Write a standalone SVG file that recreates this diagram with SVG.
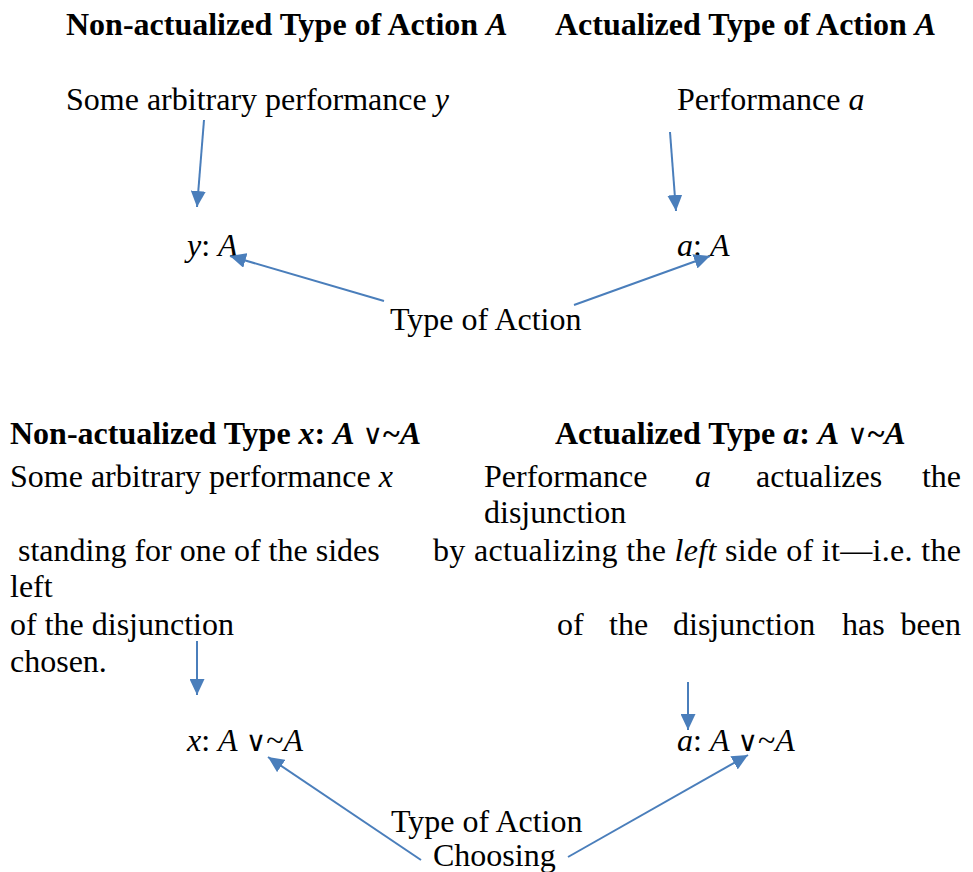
<svg xmlns="http://www.w3.org/2000/svg" width="973" height="872" viewBox="0 0 973 872">
<defs>
<style>
text{font-family:"Liberation Serif","Times New Roman",serif;font-size:32px;fill:#000}
.b{font-weight:bold}
.i{font-style:italic}
.sym{font-family:"DejaVu Serif","Liberation Serif",serif;font-size:28px;font-weight:normal}
.c{stroke:#4A7EBB;stroke-width:2;fill:none;marker-end:url(#ah)}
</style>
<marker id="ah" markerUnits="userSpaceOnUse" markerWidth="16" markerHeight="15" refX="16" refY="7.5" orient="auto" viewBox="0 0 16 15">
<path d="M0,0 L16,7.5 L0,15 z" fill="#4A7EBB"/>
</marker>
</defs>
<rect width="973" height="872" fill="#fff"/>

<g id="heading-non-actualized-A"><text x="66" y="35" class="b">Non-actualized Type of Action <tspan class="i">A</tspan></text></g>
<g id="heading-actualized-A"><text x="555" y="35" class="b">Actualized Type of Action <tspan class="i">A</tspan></text></g>

<g id="node-some-y"><text x="66" y="110">Some arbitrary performance <tspan class="i">y</tspan></text></g>
<g id="node-perf-a"><text x="677" y="110">Performance <tspan class="i">a</tspan></text></g>

<g id="node-yA"><text x="187" y="256"><tspan class="i">y</tspan>: <tspan class="i">A</tspan></text></g>
<g id="node-aA"><text x="677" y="256"><tspan class="i">a</tspan>: <tspan class="i">A</tspan></text></g>

<g id="node-type-action-1"><text x="390" y="330">Type of Action</text></g>

<g id="heading-non-actualized-x"><text x="10" y="444" class="b">Non-actualized Type <tspan class="i">x</tspan>: <tspan class="i">A</tspan> <tspan class="sym">∨</tspan>~<tspan class="i">A</tspan></text></g>
<g id="heading-actualized-a"><text x="555" y="444" class="b">Actualized Type <tspan class="i">a</tspan>: <tspan class="i">A</tspan> <tspan class="sym">∨</tspan>~<tspan class="i">A</tspan></text></g>

<g id="node-some-x">
<text x="10" y="487">Some arbitrary performance <tspan class="i">x</tspan></text>
<text x="18" y="561">standing for one of the sides</text>
<text x="10" y="597">left</text>
<text x="10" y="635">of the disjunction</text>
<text x="10" y="672">chosen.</text>
</g>

<g id="node-perf-a-disj">
<text x="484" y="487">Performance</text>
<text x="695" y="487" class="i">a</text>
<text x="756" y="487">actualizes</text>
<text x="961" y="487" text-anchor="end">the</text>
<text x="484" y="523">disjunction</text>
<text x="433" y="561" textLength="528" lengthAdjust="spacing">by actualizing the <tspan class="i">left</tspan> side of it—i.e. the</text>
<text x="557" y="635">of</text>
<text x="609" y="635">the</text>
<text x="673" y="635">disjunction</text>
<text x="842" y="635">has</text>
<text x="961" y="635" text-anchor="end">been</text>
</g>

<g id="node-xAvA"><text x="187" y="751"><tspan class="i">x</tspan>: <tspan class="i">A</tspan> <tspan class="sym">∨</tspan>~<tspan class="i">A</tspan></text></g>
<g id="node-aAvA"><text x="677" y="751"><tspan class="i">a</tspan>: <tspan class="i">A</tspan> <tspan class="sym">∨</tspan>~<tspan class="i">A</tspan></text></g>

<g id="node-type-action-choosing">
<text x="391" y="832">Type of Action</text>
<text x="433" y="866">Choosing</text>
</g>

<g id="connectors">
<line class="c" x1="204" y1="120" x2="197" y2="207"/>
<line class="c" x1="670" y1="132" x2="676" y2="211"/>
<line class="c" x1="384" y1="301" x2="230" y2="256"/>
<line class="c" x1="574" y1="305" x2="710" y2="256"/>
<line class="c" x1="197" y1="641" x2="197" y2="695"/>
<line class="c" x1="688" y1="682" x2="688" y2="730"/>
<line class="c" x1="421" y1="860" x2="268" y2="757"/>
<line class="c" x1="568" y1="857" x2="748" y2="755"/>
</g>
</svg>
